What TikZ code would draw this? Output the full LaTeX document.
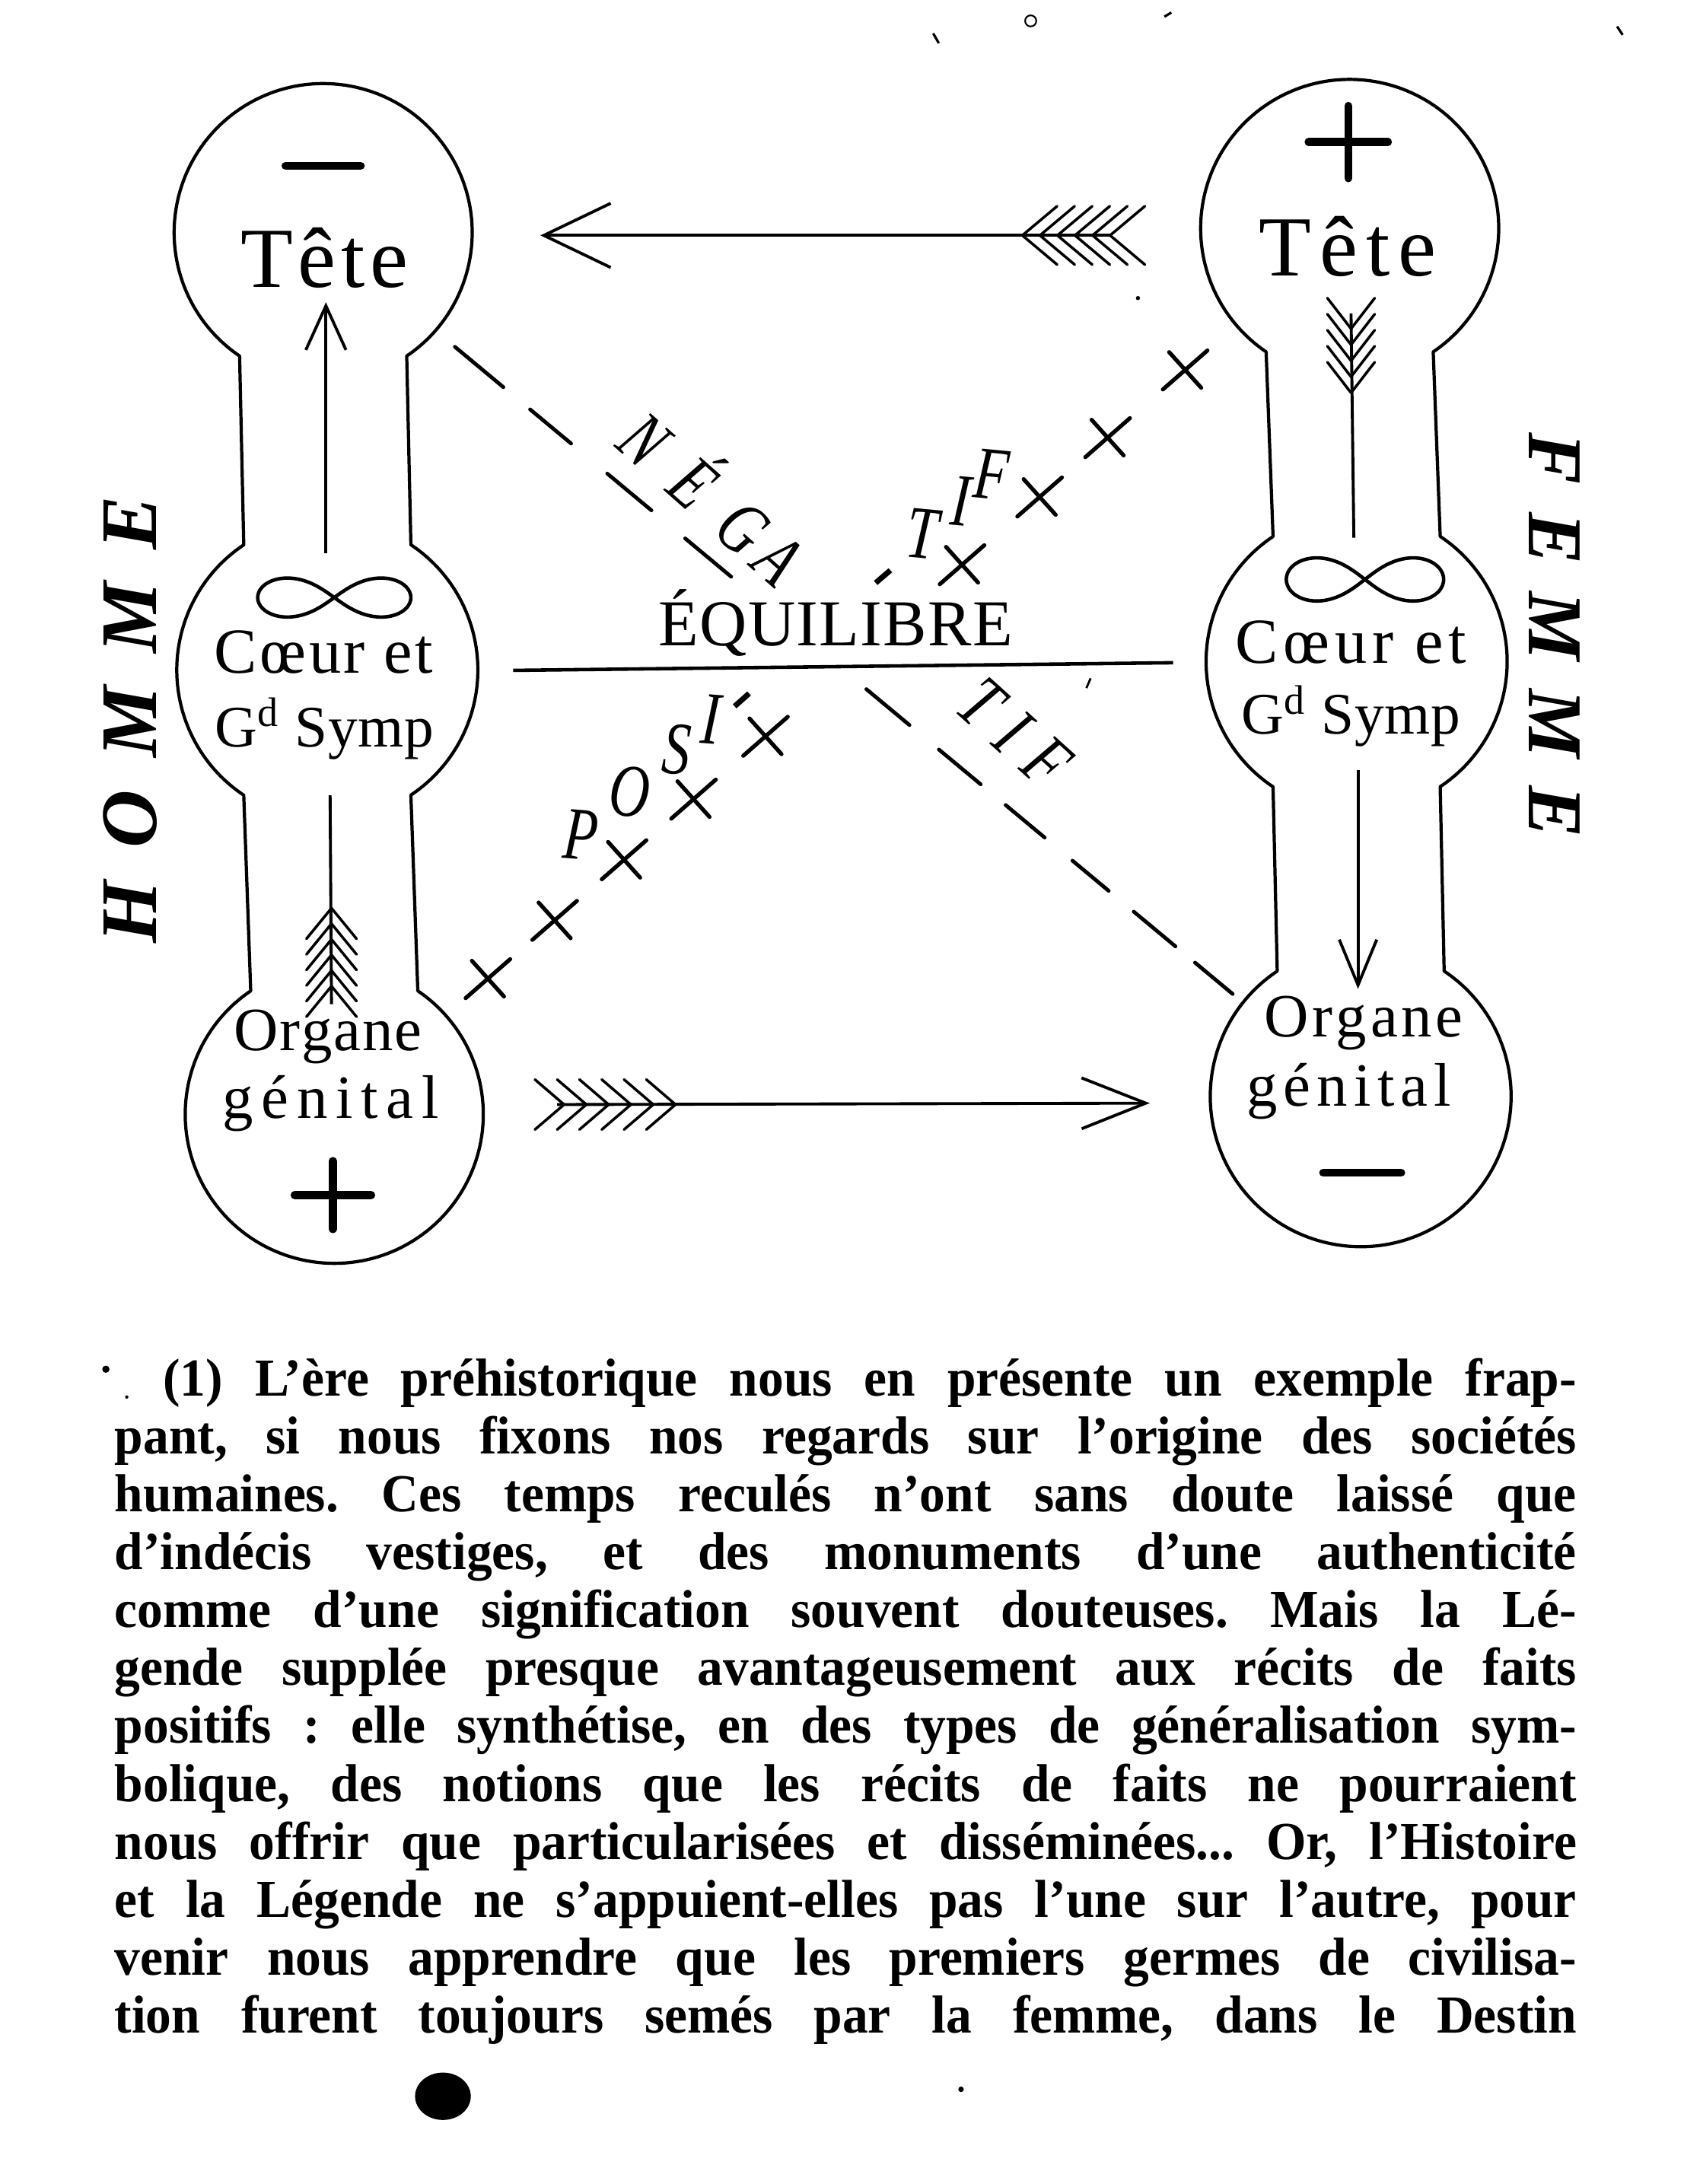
\documentclass[tikz,border=0pt]{standalone}
\usepackage{fontspec}
\usepackage{graphicx}
\setmainfont{Liberation Serif}
\usetikzlibrary{arrows.meta,calc}
\newlength\un
\setlength\un{0.5208pt}
\newcommand\fsz[1]{\fontsize{#1}{#1}\selectfont}
\newcommand\nrw[1]{\scalebox{0.75}[1]{#1}}
\newcommand\rl[1]{\rotatebox[origin=c]{-46}{\nrw{#1}}}
\newcommand\zb[1]{\makebox[0pt]{#1}}
\frenchspacing
\begin{document}
\begin{tikzpicture}[x=0.5208pt,y=-0.5208pt,
  outline/.style={line width=1.2pt, line join=round},
  conn/.style={line width=1.1pt},
  fl/.style={line width=1pt, line cap=round, line join=round},
  dsh/.style={line width=1.4pt, line cap=round},
  crs/.style={line width=1.5pt, line cap=round},
  sgn/.style={line width=3pt, line cap=round},
  lbl/.style={inner sep=0pt, anchor=base},
  diag/.style={inner sep=0pt, font=\fsz{28}\itshape},
  side/.style={inner sep=0pt, font=\fsz{30}\bfseries\itshape},
  para/.style={inner sep=0pt, anchor=base west, xscale=0.96, font=\fsz{20}\bfseries},
  inf/.style={line width=1.3pt}
]
\fill[white] (0,0) rectangle (1209,1568);
\useasboundingbox (0,0) rectangle (1209,1568);

% ---- left figure (HOMME) outline
\draw[outline] (292,255.6) arc[start angle=55.9, end angle=-235.9, radius=107]
  -- (175,391.2) arc[start angle=236.3, end angle=123.7, radius=108]
  -- (180,711.4) arc[start angle=235.9, end angle=-55.9, radius=107]
  -- (295,570.8) arc[start angle=56.3, end angle=-56.3, radius=108] -- cycle;

% ---- right figure (FEMME) outline
\draw[outline] (1029,252.6) arc[start angle=55.9, end angle=-235.9, radius=107]
  -- (914,385.2) arc[start angle=236.3, end angle=123.7, radius=108]
  -- (917,697.2) arc[start angle=236.3, end angle=-56.3, radius=108]
  -- (1034,564.8) arc[start angle=56.3, end angle=-56.3, radius=108] -- cycle;

% ---- signs
\draw[sgn] (205,119) -- (259,119);
\draw[sgn] (950,842) -- (1006,842);
\draw[sgn] (211.5,858) -- (266.5,858) (239,833.5) -- (239,882.5);
\draw[sgn] (939.5,102) -- (996.5,102) (968,76) -- (968,128);

% ---- infinity signs
\draw[inf, shift={(240,429)}] plot[domain=0:360, samples=121, smooth]
  ({55*cos(\x)/(1+sin(\x)^2)}, {39.6*sin(\x)*cos(\x)/(1+sin(\x)^2)});
\draw[inf, shift={(980,416)}] plot[domain=0:360, samples=121, smooth]
  ({56.5*cos(\x)/(1+sin(\x)^2)}, {43.8*sin(\x)*cos(\x)/(1+sin(\x)^2)});

% ---- labels in the figures
\node[lbl, font=\fsz{32}] (lTete) at (233,206) {\hbox to 120\un{T\hfil ê\hfil t\hfil e}};
\node[lbl, font=\fsz{32}] (rTete) at (967.5,198) {\hbox to 127\un{T\hfil ê\hfil t\hfil e}};
\node[lbl, font=\fsz{24}] (lCoeur) at (232.5,483) {\hbox to 157\un{C\hfil œ\hfil u\hfil r\ \hfil e\hfil t}};
\node[lbl, font=\fsz{22}] (lSymp) at (233,536) {\hbox to 157\un{G\textsuperscript{d}\ \hfil S\hfil y\hfil m\hfil p}};
\node[lbl, font=\fsz{24}] (rCoeur) at (970,476) {\hbox to 166\un{C\hfil œ\hfil u\hfil r\ \hfil e\hfil t}};
\node[lbl, font=\fsz{22}] (rSymp) at (970,527) {\hbox to 157.5\un{G\textsuperscript{d}\ \hfil S\hfil y\hfil m\hfil p}};
\node[lbl, font=\fsz{23}] (lOrg) at (235.5,754) {\hbox to 135\un{O\hfil r\hfil g\hfil a\hfil n\hfil e}};
\node[lbl, font=\fsz{23}] (lGen) at (237.5,803) {\hbox to 155\un{g\hfil é\hfil n\hfil i\hfil t\hfil a\hfil l}};
\node[lbl, font=\fsz{23}] (rOrg) at (979,744.6) {\hbox to 143\un{O\hfil r\hfil g\hfil a\hfil n\hfil e}};
\node[lbl, font=\fsz{23}] (rGen) at (968.5,794) {\hbox to 147\un{g\hfil é\hfil n\hfil i\hfil t\hfil a\hfil l}};

% ---- side titles
\node[side, rotate=90] (homme) at (93.5,516.5) {\hbox to 321\un{H\hfil O\hfil M\hfil M\hfil E}};
\node[side, rotate=-90, font=\fsz{29}\bfseries\itshape] (femme) at (1116,456) {\hbox to 291\un{F\hfil E\hfil M\hfil M\hfil E}};

% ---- vertical arrows inside the figures
\coordinate (luA) at (234,397); \coordinate (luB) at (234,217);
\draw[conn,-{Straight Barb[length=16.5pt,width=15pt]}] (luA) -- (luB);
\coordinate (lfA) at (238,721); \coordinate (lfB) at (237,571);
\draw[conn] (lfA) -- (lfB);
\foreach \k in {0,...,5}
  \draw[fl] (lfA) ++(0,{-69+11.2*\k}) ++(-18,22) -- ++(18,-22) -- ++(18,22);
\coordinate (rfA) at (970,225); \coordinate (rfB) at (972,386);
\draw[conn] (rfA) -- (rfB);
\foreach \k in {0,...,4}
  \draw[fl] (rfA) ++(0,{11+11.5*\k}) ++(-17,-22) -- ++(17,22) -- ++(17,-22);
\coordinate (rdA) at (975,553); \coordinate (rdB) at (975,710);
\draw[conn,-{Straight Barb[length=17pt,width=14pt]}] (rdA) -- (rdB);

% ---- horizontal arrows
\coordinate (tA) at (797,169); \coordinate (tB) at (388,169);
\draw[conn,-{Straight Barb[length=25pt,width=24pt]}] (tA) -- (tB);
\foreach \k in {0,...,5}
  \draw[fl] (tA) ++({-63+12.6*\k},0) ++(25,-21) -- ++(-25,21) -- ++(25,21);
\coordinate (bA) at (400,793); \coordinate (bB) at (825.5,792);
\draw[conn,-{Straight Barb[length=24pt,width=19pt]}] (bA) -- (bB);
\foreach \k in {0,...,5}
  \draw[fl] (bA) ++({5+16*\k},0) ++(-21,-18) -- ++(21,18) -- ++(-21,18);

% ---- equilibre
\coordinate (eA) at (368.4,481.3); \coordinate (eB) at (842.3,475.8);
\draw[line width=1.3pt] (eA) -- (eB);
\node[lbl, font=\fsz{24.5}] (equil) at (600,463.7) {\hbox to 254\un{É\hfil Q\hfil U\hfil I\hfil L\hfil I\hfil B\hfil R\hfil E}};

% ---- NEGATIF (dashed)
\coordinate (nA) at (326.6,249); \coordinate (nB) at (885,713.6);
\foreach \a/\b in {0/0.0623,0.0967/0.1494,0.1959/0.2527,0.2961/0.3552,0.5290/0.5845,0.6223/0.6760,0.7081/0.7583,0.7940/0.8406,0.8728/0.9265,0.9516/1}
  \draw[dsh] ($(nA)!\a!(nB)$) -- ($(nA)!\b!(nB)$);
\node[diag, rotate=-41.5] (nega) at (514,355)
  {\hbox{\zb{\nrw{N}}\hskip46.8\un\zb{\nrw{É}}\hskip47.8\un\zb{\nrw{G}}\hskip34\un\zb{\nrw{A}}}};
\node[diag, rotate=-42] (tifN) at (728,526)
  {\hbox{\zb{\nrw{T}}\hskip31\un\zb{\nrw{I}}\hskip33\un\zb{\nrw{F}}}};

% ---- POSITIF (crosses)
\coordinate (pA) at (350.3,702.6); \coordinate (pB) at (850.9,265.6);
\foreach \t in {0,0.0957,0.1953,0.2949,0.3981,0.680,0.7913,0.8888,1}
  \draw[crs] ($(pA)!\t!(pB)$) +(-16,14) -- +(16,-14) +(-11.5,-12.8) -- +(11.5,12.8);
\node[diag, rotate=41.6] (posi) at (473.5,549.3)
  {\hbox{\zb{\rl{P}}\hskip46.6\un\zb{\rl{O}}\hskip45.5\un\zb{\rl{S}}\hskip32.8\un\zb{\rl{I}}\hskip25.6\un\zb{-}}};
\node[diag, rotate=40.6] (tifP) at (671.4,375.5)
  {\hbox{\zb{-}\hskip41.3\un\zb{\rl{T}}\hskip36.2\un\zb{\rl{I}}\hskip29.4\un\zb{\rl{F}}}};

% ---- footnote text
\node[para] (p1) at (116.8,1002) {\hbox to 1057.1\un{(1) L’ère préhistorique nous en présente un exemple frap-}};
\node[para] (p2) at (82,1043.6) {\hbox to 1093.3\un{pant, si nous fixons nos regards sur l’origine des sociétés}};
\node[para] (p3) at (82,1085.2) {\hbox to 1093.3\un{humaines. Ces temps reculés n’ont sans doute laissé que}};
\node[para] (p4) at (82,1126.8) {\hbox to 1093.3\un{d’indécis vestiges, et des monuments d’une authenticité}};
\node[para] (p5) at (82,1168.4) {\hbox to 1093.3\un{comme d’une signification souvent douteuses. Mais la Lé-}};
\node[para] (p6) at (82,1210) {\hbox to 1093.3\un{gende supplée presque avantageusement aux récits de faits}};
\node[para] (p7) at (82,1251.6) {\hbox to 1093.3\un{positifs : elle synthétise, en des types de généralisation sym-}};
\node[para] (p8) at (82,1293.2) {\hbox to 1093.3\un{bolique, des notions que les récits de faits ne pourraient}};
\node[para] (p9) at (82,1334.8) {\hbox to 1093.3\un{nous offrir que particularisées et disséminées... Or, l’Histoire}};
\node[para] (p10) at (82,1376.4) {\hbox to 1093.3\un{et la Légende ne s’appuient-elles pas l’une sur l’autre, pour}};
\node[para] (p11) at (82,1418) {\hbox to 1093.3\un{venir nous apprendre que les premiers germes de civilisa-}};
\node[para] (p12) at (82,1459.6) {\hbox to 1093.3\un{tion furent toujours semés par la femme, dans le Destin}};

% ---- specks of the print
\draw[line width=0.6pt] (740,15) circle[radius=4];
\draw[line width=0.9pt] (670,24) -- (674,31) (836,12) -- (841,9) (1161,19) -- (1165,25);
\fill (76,983) circle[radius=2.6];
\fill (91,1003) circle[radius=1.2];
\fill (318,1505) ellipse[x radius=20, y radius=17];
\fill (690,1500) circle[radius=2];
\fill (817,214) circle[radius=1.5];
\draw[line width=0.8pt] (780,494) -- (783,487);
\end{tikzpicture}
\end{document}
